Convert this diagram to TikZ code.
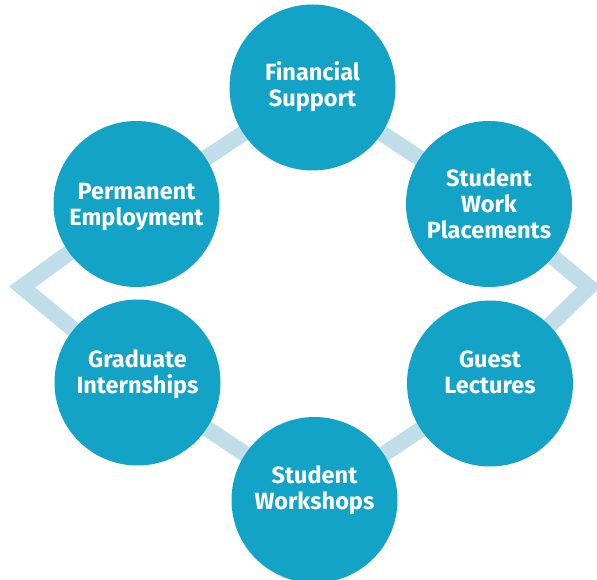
\documentclass[tikz,border=0pt]{standalone}
\usepackage{fontspec}
\setmainfont{Fira Sans}
\usetikzlibrary{backgrounds}
\definecolor{circblue}{HTML}{13A3C7}
\definecolor{bandblue}{HTML}{C0DEEA}
\tikzset{
  topic/.style={circle, fill=circblue, draw=none, minimum size=166pt, inner sep=0pt},
  lbl/.style={text=white, align=center, inner sep=0pt,
    font=\bfseries\fontsize{23.5}{26}\selectfont},
  band/.style={draw=bandblue, line width=16pt, line join=miter}
}
\begin{document}
\begin{tikzpicture}[x=1pt,y=-1pt]
\useasboundingbox (0,0) rectangle (597,580);
\node[topic, label={[lbl, yshift=1pt]center:Financial\\Support}] (fin) at (312.5,87.5) {};
\node[topic, label={[lbl, yshift=0pt]center:Student\\Work\\Placements}] (swp) at (489,204) {};
\node[topic, label={[lbl, yshift=11pt]center:Guest\\Lectures}] (gl) at (490,383.5) {};
\node[topic, label={[lbl, yshift=10pt]center:Student\\Workshops}] (sw) at (314.5,500) {};
\node[topic, label={[lbl, yshift=8pt]center:Graduate\\Internships}] (gi) at (137.5,382.5) {};
\node[topic, label={[lbl, yshift=-3pt]center:Permanent\\Employment}] (pe) at (136.5,204) {};
\coordinate (rv) at (589,287);
\coordinate (lv) at (22,287);
\begin{pgfonlayer}{background}
\draw[band] (fin.center) -- (swp.center) -- (rv) -- (gl.center) -- (sw.center)
  -- (gi.center) -- (lv) -- (pe.center) -- cycle;
\end{pgfonlayer}
\end{tikzpicture}
\end{document}
